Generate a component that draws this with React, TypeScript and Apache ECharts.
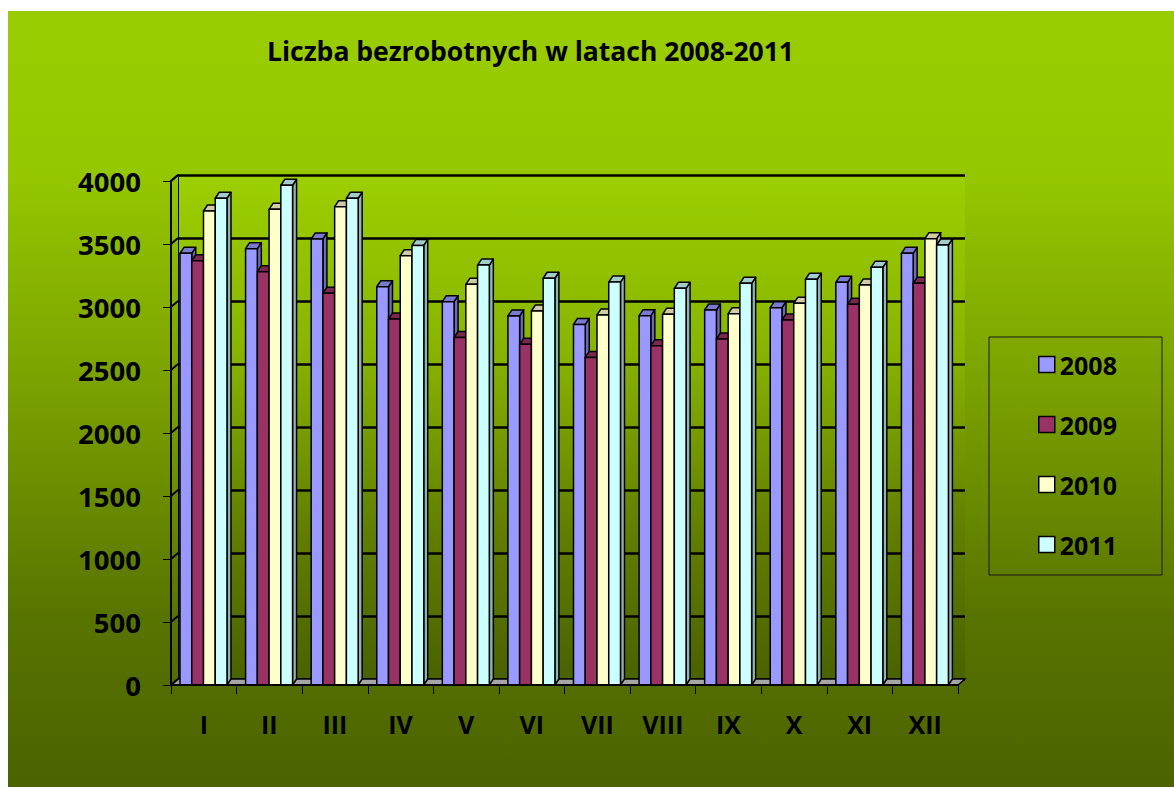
import React, { useEffect, useRef } from "react";
import * as echarts from "echarts";

const months = ["I", "II", "III", "IV", "V", "VI", "VII", "VIII", "IX", "X", "XI", "XII"];
const years = ["2008", "2009", "2010", "2011"];
const v2008 = [3426, 3463, 3540, 3161, 3042, 2929, 2862, 2931, 2976, 2995, 3196, 3426];
const v2009 = [3367, 3280, 3109, 2905, 2758, 2704, 2600, 2693, 2746, 2897, 3021, 3188];
const v2010 = [3762, 3775, 3796, 3407, 3180, 2968, 2937, 2942, 2947, 3029, 3175, 3542];
const v2011 = [3863, 3966, 3863, 3489, 3333, 3228, 3198, 3148, 3188, 3220, 3315, 3492];
const yTicks = [0, 500, 1000, 1500, 2000, 2500, 3000, 3500, 4000];

const seriesValues = [v2008, v2009, v2010, v2011];
const frontColors = ["#9999ff", "#993366", "#ffffcc", "#ccffff"];
const topColors = ["#7a7ad0", "#7a2850", "#cfcca6", "#a3cccc"];
const sideColors = ["#6b6bb8", "#6e2449", "#c2c09c", "#8fb5b5"];

const FONT = "Open Sans";
const W = 1174;
const H = 787;
// front plot
const PL = 171, PT = 181, PR = 958, PB = 685;
// depth
const DX = 7, DY = -6;
const BDX = 4, BDY = -6;

export default function App() {
  const ref = useRef<HTMLDivElement>(null);
  useEffect(() => {
    if (!ref.current) return;
    const chart = echarts.init(ref.current, null, { renderer: "svg" });
    const plotH = PB - PT;
    const yOf = (v: number) => PB - (v / 4000) * plotH;

    const sideWall: any[] = yTicks.map((v) => ({
      type: "line",
      z: 1,
      shape: { x1: PL, y1: yOf(v), x2: PL + DX, y2: yOf(v) + DY },
      style: { stroke: "#000", lineWidth: 2 },
    }));

    const series = years.map((y, s) => ({
      type: "custom",
      name: y,
      xAxisIndex: 0,
      yAxisIndex: 0,
      z: 3,
      itemStyle: { color: frontColors[s], borderColor: "#000", borderWidth: 1.5 },
      data: seriesValues[s].map((v, i) => [i, v]),
      renderItem: (params: any, api: any) => {
        const ci = api.value(0);
        const val = api.value(1);
        const base = api.coord([ci, 0]);
        const top = api.coord([ci, val]);
        const cw = api.size([1, 0])[0];
        const k = cw / 65.6;
        const bw = 11.75 * k;
        const x0 = base[0] - cw / 2 + 9 * k + s * bw;
        const x1 = x0 + bw;
        const y0 = base[1];
        const yt = top[1];
        const st = { stroke: "#000", lineWidth: 1.5, lineJoin: "round" };
        return {
          type: "group",
          children: [
            {
              type: "polygon",
              shape: { points: [[x1, yt], [x1 + BDX, yt + BDY], [x1 + BDX, y0 + BDY], [x1, y0]] },
              style: { ...st, fill: sideColors[s] },
            },
            {
              type: "polygon",
              shape: { points: [[x0, yt], [x1, yt], [x1 + BDX, yt + BDY], [x0 + BDX, yt + BDY]] },
              style: { ...st, fill: topColors[s] },
            },
            {
              type: "rect",
              shape: { x: x0, y: yt, width: bw, height: y0 - yt },
              style: { ...st, fill: frontColors[s] },
            },
          ],
        };
      },
    }));

    chart.setOption({
      animation: false,
      backgroundColor: "#ffffff",
      title: {
        text: "Liczba bezrobotnych w latach 2008-2011",
        left: 262,
        top: 32,
        textStyle: { fontFamily: FONT, fontWeight: "bold", fontSize: 26.5, color: "#000" },
      },
      legend: {
        orient: "vertical",
        left: 1033,
        top: 347,
        itemGap: 35,
        itemWidth: 16,
        itemHeight: 16,
        icon: "rect",
        textStyle: { fontFamily: FONT, fontWeight: "bold", fontSize: 25, color: "#000", lineHeight: 25 },
        itemStyle: { borderColor: "#000", borderWidth: 1.5 },
        data: years,
      },
      grid: [
        { left: PL, top: PT, width: PR - PL, height: PB - PT, show: false },
        {
          left: PL + DX,
          top: PT + DY,
          width: PR - PL,
          height: PB - PT,
          show: true,
          z: 0,
          borderWidth: 0,
          backgroundColor: new echarts.graphic.LinearGradient(0, 0, 0, 1, [
            { offset: 0, color: "#9ccf00" },
            { offset: 0.35, color: "#88b400" },
            { offset: 0.7, color: "#627f00" },
            { offset: 1, color: "#4a6200" },
          ]),
        },
      ],
      xAxis: [
        {
          type: "category",
          gridIndex: 0,
          data: months,
          boundaryGap: true,
          axisLine: { show: true, lineStyle: { color: "#000", width: 2 } },
          axisTick: { show: true, length: 9, lineStyle: { color: "#000", width: 1 } },
          axisLabel: {
            margin: 26,
            fontFamily: FONT,
            fontWeight: "bold",
            fontSize: 25,
            color: "#000",
          },
          splitLine: { show: false },
          z: 4,
        },
        {
          type: "category",
          gridIndex: 1,
          data: months,
          show: false,
        },
      ],
      yAxis: [
        {
          type: "value",
          gridIndex: 0,
          min: 0,
          max: 4000,
          interval: 500,
          axisLine: { show: true, lineStyle: { color: "#000", width: 2 } },
          axisTick: { show: true, length: 8, lineStyle: { color: "#000", width: 1 } },
          axisLabel: {
            margin: 30,
            fontFamily: FONT,
            fontWeight: "bold",
            fontSize: 27.5,
            color: "#000",
            formatter: (v: number) => String(v),
          },
          splitLine: { show: false },
          z: 4,
        },
        {
          type: "value",
          gridIndex: 1,
          min: 0,
          max: 4000,
          interval: 500,
          axisLine: { show: true, lineStyle: { color: "#000", width: 1 } },
          axisTick: { show: false },
          axisLabel: { show: false },
          splitLine: { show: true, lineStyle: { color: "#000", width: 2.5 } },
          z: 0,
        },
      ],
      graphic: [
        {
          type: "rect",
          z: -10,
          silent: true,
          shape: { x: 8, y: 11, width: W - 8, height: H - 11 },
          style: {
            fill: new echarts.graphic.LinearGradient(0, 0, 0, 1, [
              { offset: 0, color: "#99cc00" },
              { offset: 0.2, color: "#96c800" },
              { offset: 0.5, color: "#789f00" },
              { offset: 0.78, color: "#587400" },
              { offset: 1, color: "#4b6300" },
            ]),
          },
        },
        {
          type: "polygon",
          z: 1,
          shape: { points: [[PL, PB], [PR, PB], [PR + DX, PB + DY], [PL + DX, PB + DY]] },
          style: { fill: "#a6a6a6", stroke: "#000", lineWidth: 1.5 },
        },
        {
          type: "line",
          z: 1,
          shape: { x1: PL, y1: PT, x2: PL + DX, y2: PT + DY },
          style: { stroke: "#000", lineWidth: 2 },
        },
        ...sideWall,
        {
          type: "rect",
          z: 1,
          shape: { x: 989, y: 337, width: 173, height: 238 },
          style: { fill: "rgba(0,0,0,0)", stroke: "#1a1a1a", lineWidth: 1 },
        },
      ],
      series,
    });
    return () => chart.dispose();
  }, []);
  return (
    <div
      ref={ref}
      style={{ position: "fixed", left: 0, top: 0, width: W, height: H }}
    />
  );
}
